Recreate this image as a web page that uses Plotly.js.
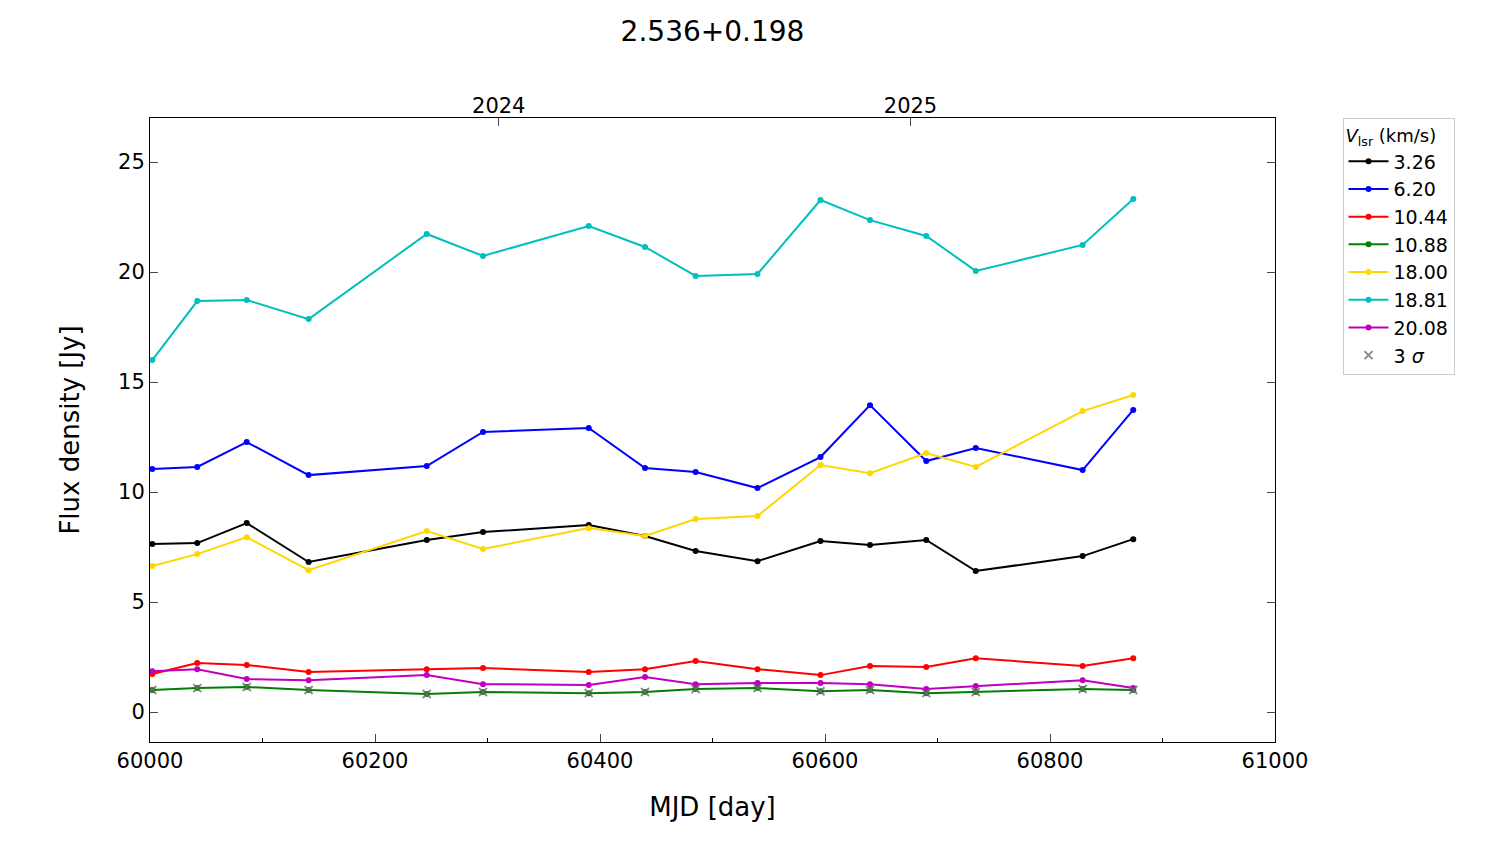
<!DOCTYPE html>
<html><head><meta charset="utf-8">
<script src="https://cdn.plot.ly/plotly-3.0.1.min.js"></script>
<style>body{margin:0}#plot{width:1500px;height:844px}</style>
</head><body><div id="plot"></div>
<script>
const mjd = [60002, 60042, 60086, 60141, 60246, 60296, 60390, 60440, 60485, 60540, 60596, 60640, 60690, 60734, 60829, 60874];
const v326 = [7.64, 7.68, 8.59, 6.82, 7.82, 8.18, 8.5, 8.0, 7.32, 6.86, 7.77, 7.59, 7.82, 6.41, 7.09, 7.86];
const v620 = [11.05, 11.14, 12.27, 10.77, 11.18, 12.73, 12.91, 11.09, 10.91, 10.18, 11.59, 13.95, 11.41, 12.0, 11.0, 13.73];
const v1044 = [1.73, 2.23, 2.14, 1.82, 1.95, 2.0, 1.82, 1.95, 2.32, 1.95, 1.68, 2.09, 2.05, 2.45, 2.09, 2.45];
const v1088 = [1.0, 1.09, 1.14, 1.0, 0.82, 0.91, 0.86, 0.91, 1.05, 1.09, 0.95, 1.0, 0.86, 0.91, 1.05, 1.0];
const v1800 = [6.64, 7.18, 7.95, 6.45, 8.23, 7.41, 8.36, 8.0, 8.77, 8.91, 11.23, 10.86, 11.77, 11.14, 13.68, 14.41];
const v1881 = [16.0, 18.68, 18.73, 17.86, 21.73, 20.73, 22.09, 21.14, 19.82, 19.91, 23.27, 22.36, 21.64, 20.05, 21.23, 23.32];
const v2008 = [1.86, 1.95, 1.5, 1.45, 1.68, 1.27, 1.23, 1.59, 1.27, 1.32, 1.32, 1.27, 1.05, 1.18, 1.45, 1.09];
const yearTicks = [60310, 60676];
const yearLabels = ['2024', '2025'];

const series = [
  ['3.26', v326, 'black'],
  ['6.20', v620, 'blue'],
  ['10.44', v1044, 'red'],
  ['10.88', v1088, 'green'],
  ['18.00', v1800, 'gold'],
  ['18.81', v1881, 'rgb(0,191,191)'],
  ['20.08', v2008, 'rgb(191,0,191)']
];

const data = series.map(([name, y, c]) => ({
  x: mjd, y: y, name: name, mode: 'lines+markers',
  line: { color: c, width: 2 }, marker: { color: c, size: 6 }
}));
// 3 sigma upper-limit markers on the 10.88 channel
data.push({
  x: mjd, y: v1088, name: '3 <i>σ</i>', mode: 'markers',
  marker: { symbol: 'x-thin', size: 8, line: { color: 'rgba(110,110,110,0.8)', width: 2 } }
});
// invisible trace for top year axis
data.push({ x: [60000, 61000], y: [0, 0], xaxis: 'x2', mode: 'markers',
  marker: { opacity: 0 }, showlegend: false, hoverinfo: 'skip' });

const font = { family: 'DejaVu Sans', size: 21, color: 'black' };
const layout = {
  width: 1500, height: 844,
  margin: { l: 150, r: 225, t: 118, b: 102 },
  paper_bgcolor: 'white', plot_bgcolor: 'white',
  font: font,
  title: { text: '2.536+0.198', x: 0.475, y: 0.975, font: { family: 'DejaVu Sans', size: 28 } },
  xaxis: {
    range: [60000, 61000], dtick: 200, tickformat: 'd', ticks: 'inside', ticklen: 8, showgrid: false, zeroline: false,
    showline: true, linecolor: 'black', mirror: true, tickfont: font,
    minor: { dtick: 100, ticks: 'inside', ticklen: 4, tickcolor: 'black' },
    title: { text: 'MJD [day]', font: { family: 'DejaVu Sans', size: 26 }, standoff: 25 }
  },
  xaxis2: {
    overlaying: 'x', side: 'top', range: [60000, 61000], tickvals: yearTicks, ticktext: yearLabels,
    ticks: 'inside', ticklen: 8, showgrid: false, zeroline: false, tickfont: font
  },
  yaxis: {
    range: [-1.36, 27.0], dtick: 5, ticks: 'inside', ticklen: 8, showgrid: false, zeroline: false,
    showline: true, linecolor: 'black', mirror: 'ticks', tickfont: font,
    title: { text: 'Flux density [Jy]', font: { family: 'DejaVu Sans', size: 26 }, standoff: 30 }
  },
  legend: {
    x: 1.06, y: 1.0, xanchor: 'left', yanchor: 'top', itemwidth: 40,
    bordercolor: '#ccc', borderwidth: 1, font: { family: 'DejaVu Sans', size: 19 },
    title: { text: '<i>V</i><sub>lsr</sub> (km/s)', font: { family: 'DejaVu Sans', size: 18 } }
  }
};
Plotly.newPlot('plot', data, layout, { displayModeBar: false });
</script></body></html>
